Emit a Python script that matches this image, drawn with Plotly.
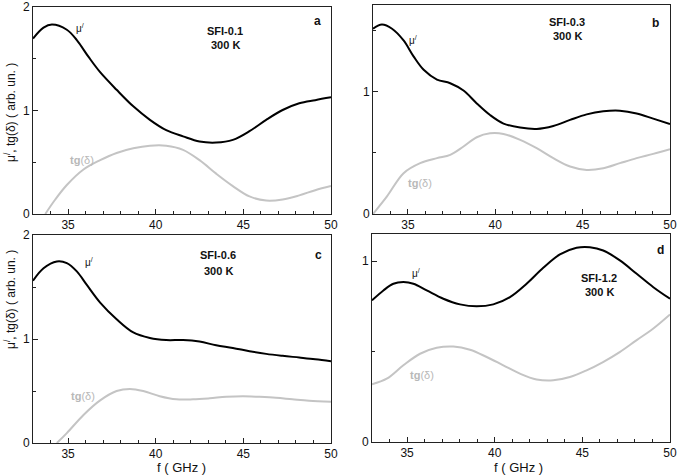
import plotly.graph_objects as go

# ---------------- data ----------------
fa_mu = [33, 33.6, 34.08, 34.93, 35.5, 36.16, 36.83, 37.77, 38.72, 39.67, 40.6, 41.56, 42.5, 43.45, 44.4, 45.35, 46.3, 47.24, 48.19, 49.1, 50]
a_mu = [1.695, 1.80, 1.83, 1.78, 1.68, 1.52, 1.37, 1.20, 1.04, 0.91, 0.81, 0.75, 0.70, 0.69, 0.716, 0.80, 0.91, 1.005, 1.07, 1.10, 1.127]
fa_tg = [33.7, 34.27, 34.93, 35.88, 36.83, 37.77, 38.72, 39.67, 40.6, 41.56, 42.5, 43.45, 44.4, 45.35, 46.3, 47.24, 48.19, 49.1, 50]
a_tg = [0.0, 0.14, 0.28, 0.43, 0.52, 0.59, 0.635, 0.66, 0.66, 0.62, 0.52, 0.39, 0.27, 0.17, 0.13, 0.14, 0.18, 0.23, 0.27]

fb_mu = [33, 33.51, 34.09, 34.75, 35.32, 35.9, 36.66, 37.42, 38.18, 38.94, 39.7, 40.47, 41.42, 42.37, 43.32, 44.28, 45.23, 46.18, 47.13, 48.09, 49.04, 50]
b_mu = [1.516, 1.55, 1.516, 1.42, 1.29, 1.18, 1.10, 1.07, 1.01, 0.905, 0.81, 0.74, 0.707, 0.696, 0.72, 0.77, 0.815, 0.84, 0.845, 0.823, 0.78, 0.736]
fb_tg = [33, 33.8, 34.75, 35.7, 36.66, 37.42, 38.18, 38.94, 39.7, 40.47, 41.42, 42.37, 43.32, 44.28, 45.23, 46.18, 47.13, 48.09, 49.04, 50]
b_tg = [0.0, 0.144, 0.334, 0.416, 0.457, 0.484, 0.552, 0.628, 0.66, 0.655, 0.606, 0.538, 0.457, 0.389, 0.361, 0.375, 0.416, 0.457, 0.492, 0.53]

fc_mu = [33, 33.6, 34.36, 34.93, 35.5, 36.07, 36.83, 37.77, 38.72, 39.67, 40.6, 41.56, 42.5, 43.45, 44.4, 45.35, 46.3, 47.24, 48.19, 49.1, 50]
c_mu = [1.56, 1.68, 1.746, 1.73, 1.65, 1.52, 1.35, 1.19, 1.063, 1.01, 0.99, 0.99, 0.975, 0.94, 0.914, 0.883, 0.857, 0.838, 0.822, 0.806, 0.787]
fc_tg = [34.36, 34.93, 35.88, 36.83, 37.77, 38.53, 39.29, 40.23, 41.18, 42.13, 43.08, 44.02, 44.97, 45.9, 46.86, 47.8, 48.75, 50]
c_tg = [0.0, 0.095, 0.27, 0.41, 0.50, 0.52, 0.50, 0.45, 0.42, 0.42, 0.43, 0.444, 0.45, 0.444, 0.435, 0.42, 0.406, 0.397]

fd_mu = [33, 33.65, 34.22, 34.79, 35.36, 36.12, 37.07, 38.02, 38.97, 39.92, 40.87, 41.82, 42.77, 43.72, 44.67, 45.43, 46.19, 47.14, 48.1, 49.05, 50]
d_mu = [0.783, 0.838, 0.875, 0.884, 0.875, 0.838, 0.792, 0.761, 0.75, 0.761, 0.801, 0.875, 0.963, 1.037, 1.074, 1.077, 1.059, 1.004, 0.93, 0.856, 0.792]
fd_tg = [33, 33.84, 34.79, 35.74, 36.69, 37.64, 38.59, 39.54, 40.49, 41.44, 42.39, 43.34, 44.29, 45.24, 46.18, 47.13, 48.08, 49.03, 50]
d_tg = [0.319, 0.35, 0.424, 0.488, 0.521, 0.528, 0.51, 0.47, 0.424, 0.378, 0.346, 0.341, 0.359, 0.396, 0.442, 0.497, 0.562, 0.626, 0.705]

samples = ["SFI-0.1", "SFI-0.3", "SFI-0.6", "SFI-1.2"]
letters = ["a", "b", "c", "d"]
y_max = [2.0, 1.71, 2.0, 1.15]
x_ticks = [35, 40, 45, 50]

W, H = 677, 476
# panel boxes in pixels: (left, right, top, bottom)
boxes = [(33, 331, 7, 214), (373, 670, 5, 214), (33, 331, 235, 443), (372, 670, 234, 442)]

series = [(fa_mu, a_mu, fa_tg, a_tg), (fb_mu, b_mu, fb_tg, b_tg),
          (fc_mu, c_mu, fc_tg, c_tg), (fd_mu, d_mu, fd_tg, d_tg)]

fig = go.Figure()
FONT = "Liberation Sans, Arial, sans-serif"
layout = dict(width=W, height=H, margin=dict(l=0, r=0, t=0, b=0, pad=0, autoexpand=False),
              paper_bgcolor="white", plot_bgcolor="white", showlegend=False,
              font=dict(family=FONT, size=12, color="#111"))

for i, (fm, mu, ft, tg) in enumerate(series):
    n = "" if i == 0 else str(i + 1)
    fig.add_trace(go.Scatter(x=ft, y=tg, mode="lines", line=dict(color="#c4c4c4", width=2, shape="spline"),
                             xaxis="x" + n, yaxis="y" + n, hoverinfo="skip"))
    fig.add_trace(go.Scatter(x=fm, y=mu, mode="lines", line=dict(color="black", width=2, shape="spline"),
                             xaxis="x" + n, yaxis="y" + n, hoverinfo="skip"))
    l, r, t, b = boxes[i]
    common = dict(showline=True, mirror=True, linecolor="#222", linewidth=1, showgrid=False,
                  zeroline=False, ticks="inside", ticklen=5, tickcolor="#222", automargin=False,
                  ticklabeloverflow="allow",
                  tickfont=dict(family=FONT, size=12, color="#111"))
    layout["xaxis" + n] = dict(common, domain=[l / W, r / W], range=[33, 50], tickmode="array",
                               tickvals=x_ticks, anchor="y" + n,
                               minor=dict(ticks="inside", ticklen=3, dtick=1, tick0=33, tickcolor="#222"))
    layout["yaxis" + n] = dict(common, domain=[1 - b / H, 1 - t / H], range=[0, y_max[i]], dtick=1, tick0=0,
                               anchor="x" + n,
                               minor=dict(ticks="inside", ticklen=3, dtick=0.5, tick0=0, tickcolor="#222"))

anns = []
def px(x, y, text, size=11, color="#111", angle=0, xanchor="center"):
    anns.append(dict(x=x / W, y=1 - y / H, xref="paper", yref="paper", text=text, showarrow=False,
                     font=dict(family=FONT, size=size, color=color), textangle=angle,
                     xanchor=xanchor, yanchor="middle"))

# sample labels
lab_pos = [(225, 31, 45), (567, 22, 36), (218, 255, 271), (599, 278, 292)]
for s, (x, y1, y2) in zip(samples, lab_pos):
    px(x, y1, "<b>" + s + "</b>", 11)
    px(x, y2, "<b>300 K</b>", 11)
letter_pos = [(317, 21), (655, 23), (318, 255), (660, 250)]
for s, (x, y) in zip(letters, letter_pos):
    px(x, y, "<b>" + s + "</b>", 12)
mu_pos = [(80, 28), (413, 40), (89, 262), (416, 273)]
for (x, y) in mu_pos:
    px(x, y, "μ<sup>/</sup>", 10)
tg_pos = [(82, 160), (420, 183), (83, 396), (422, 375)]
for (x, y) in tg_pos:
    px(x, y, "<b>tg</b>(δ)", 11, color="#b8b8b8")

# axis titles
px(10, 113, "μ<sup>/</sup>, tg(δ) ( arb. un. )", 12, angle=-90)
px(10, 300, "μ<sup>/</sup>, tg(δ) ( arb. un. )", 12, angle=-90)
px(181, 467, "f ( GHz )", 13)
px(518, 467, "f ( GHz )", 13)

layout["annotations"] = anns
fig.update_layout(**layout)
fig.write_html("out.html", config={"displayModeBar": False},
               post_script="document.body.style.margin='0';document.body.style.overflow='hidden';")
